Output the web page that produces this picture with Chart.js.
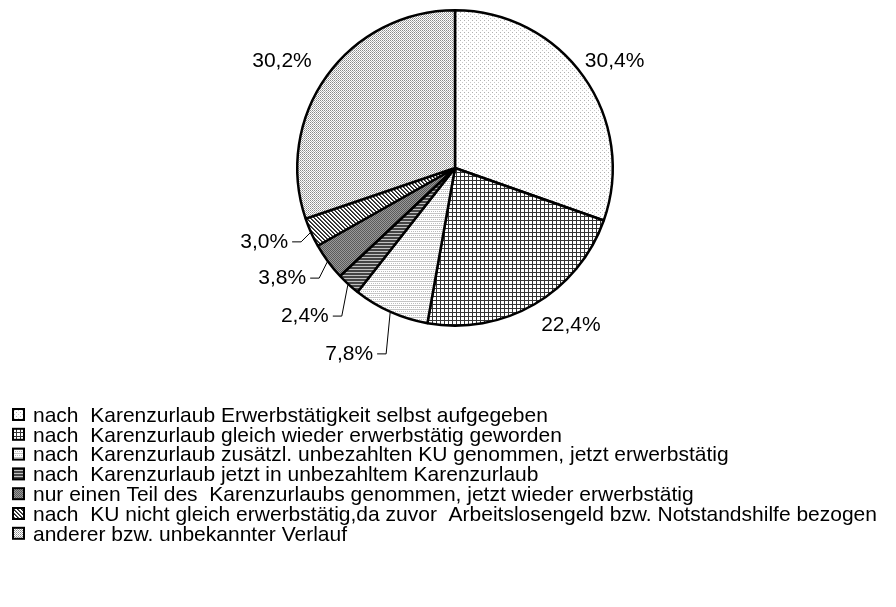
<!DOCTYPE html>
<html>
<head>
<meta charset="utf-8">
<script src="https://cdn.jsdelivr.net/npm/chart.js@4.4.0/dist/chart.umd.min.js"></script>
<style>
  html, body { margin: 0; padding: 0; background: #fff; }
  canvas { display: block; }
</style>
</head>
<body>
<canvas id="grafico" width="896" height="607"></canvas>
<script>
// Daten
const kategorien = [
    'nach  Karenzurlaub Erwerbstätigkeit selbst aufgegeben',
    'nach  Karenzurlaub gleich wieder erwerbstätig geworden',
    'nach  Karenzurlaub zusätzl. unbezahlten KU genommen, jetzt erwerbstätig',
    'nach  Karenzurlaub jetzt in unbezahltem Karenzurlaub',
    'nur einen Teil des  Karenzurlaubs genommen, jetzt wieder erwerbstätig',
    'nach  KU nicht gleich erwerbstätig,da zuvor  Arbeitslosengeld bzw. Notstandshilfe bezogen',
    'anderer bzw. unbekannter Verlauf'
];
const anteile = [30.4, 22.4, 7.8, 2.4, 3.8, 3.0, 30.2];

// Beschriftung: Versatz vom Kreisrand (Stil, keine Daten)
const labelVersatz = [[30, -15], [36, 20], [-4, 41], [-6, 31], [-8, 16], [-9, 9], [-44, -14]];
const mitLinie = [false, false, true, true, true, true, false];

// Muster (Schraffuren) wie im Original
function muster(w, h, zeichne) {
    const c = document.createElement('canvas');
    c.width = w; c.height = h;
    const g = c.getContext('2d');
    zeichne(g);
    return g.createPattern(c, 'repeat');
}
function px(g, x, y, farbe) { g.fillStyle = farbe; g.fillRect(x, y, 1, 1); }

const ctx = document.getElementById('grafico').getContext('2d');
const fuellungen = [
    muster(4, 4, g => { g.fillStyle = '#fff'; g.fillRect(0, 0, 4, 4); px(g, 0, 0, '#b0b0b0'); px(g, 2, 2, '#c8c8c8'); }),
    muster(4, 4, g => { g.fillStyle = '#fff'; g.fillRect(0, 0, 4, 4); g.fillStyle = '#333'; g.fillRect(0, 0, 4, 1); g.fillRect(0, 0, 1, 4); }),
    muster(4, 4, g => { g.fillStyle = '#fff'; g.fillRect(0, 0, 4, 4); g.fillStyle = '#c4c4c4'; g.fillRect(0, 1, 4, 1); px(g, 1, 3, '#bbb'); px(g, 3, 3, '#bbb'); }),
    muster(1, 3, g => { g.fillStyle = '#444'; g.fillRect(0, 0, 1, 3); px(g, 0, 2, '#c0c0c0'); }),
    muster(2, 2, g => { g.fillStyle = '#5a5a5a'; g.fillRect(0, 0, 2, 2); px(g, 1, 0, '#999'); px(g, 0, 1, '#999'); }),
    muster(4, 4, g => { g.fillStyle = '#fff'; g.fillRect(0, 0, 4, 4); for (let i = 0; i < 4; i++) { px(g, i, i, '#222'); px(g, (i + 1) % 4, i, '#555'); } }),
    muster(2, 2, g => { g.fillStyle = '#fff'; g.fillRect(0, 0, 2, 2); px(g, 0, 0, '#8a8a8a'); px(g, 1, 1, '#b0b0b0'); })
];

const schrift = '"Liberation Sans", Arial, sans-serif';

// Prozentwerte außen, mit Führungslinien bei kleinen Segmenten
const beschriftung = {
    id: 'beschriftung',
    afterDatasetsDraw(chart) {
        const c = chart.ctx;
        const meta = chart.getDatasetMeta(0);
        c.save();
        c.font = '21px ' + schrift;
        c.fillStyle = '#000';
        c.strokeStyle = '#000';
        c.lineWidth = 1;
        c.textBaseline = 'middle';
        meta.data.forEach((arc, i) => {
            const p = arc.getProps(['x', 'y', 'startAngle', 'endAngle', 'outerRadius'], true);
            const mitte = (p.startAngle + p.endAngle) / 2;
            const ex = p.x + (p.outerRadius + 1) * Math.cos(mitte);
            const ey = p.y + (p.outerRadius + 1) * Math.sin(mitte);
            const text = anteile[i].toFixed(1).replace('.', ',') + '%';
            const [dx, dy] = labelVersatz[i];
            if (mitLinie[i]) {
                const kx = ex + dx, ky = ey + dy;
                c.beginPath();
                c.moveTo(ex, ey);
                c.lineTo(kx, ky);
                c.lineTo(kx - 9, ky);
                c.stroke();
                c.textAlign = 'right';
                c.fillText(text, kx - 13, ky);
            } else {
                c.textAlign = 'center';
                c.fillText(text, ex + dx, ey + dy);
            }
        });
        c.restore();
    }
};

// Legende unten links, ein Eintrag pro Zeile
const legende = {
    id: 'legende',
    afterDraw(chart) {
        const c = chart.ctx;
        const farben = chart.data.datasets[0].backgroundColor;
        c.save();
        c.font = '21px ' + schrift;
        c.textBaseline = 'middle';
        c.textAlign = 'left';
        chart.data.labels.forEach((t, i) => {
            const y = 415 + i * 19.8;
            c.fillStyle = farben[i];
            c.fillRect(13, y - 6, 11, 11);
            c.strokeStyle = '#000';
            c.lineWidth = 2;
            c.strokeRect(13, y - 6, 11, 11);
            c.fillStyle = '#000';
            c.fillText(t, 33, y + 1);
        });
        c.restore();
    }
};

new Chart(ctx, {
    type: 'pie',
    data: {
        labels: kategorien,
        datasets: [{
            data: anteile,
            backgroundColor: fuellungen,
            borderColor: '#000',
            borderWidth: 2.5
        }]
    },
    options: {
        responsive: false,
        animation: false,
        layout: { padding: { left: 296, right: 282, top: 9, bottom: 280 } },
        plugins: {
            legend: { display: false },
            tooltip: { enabled: false }
        }
    },
    plugins: [beschriftung, legende]
});
</script>
</body>
</html>
